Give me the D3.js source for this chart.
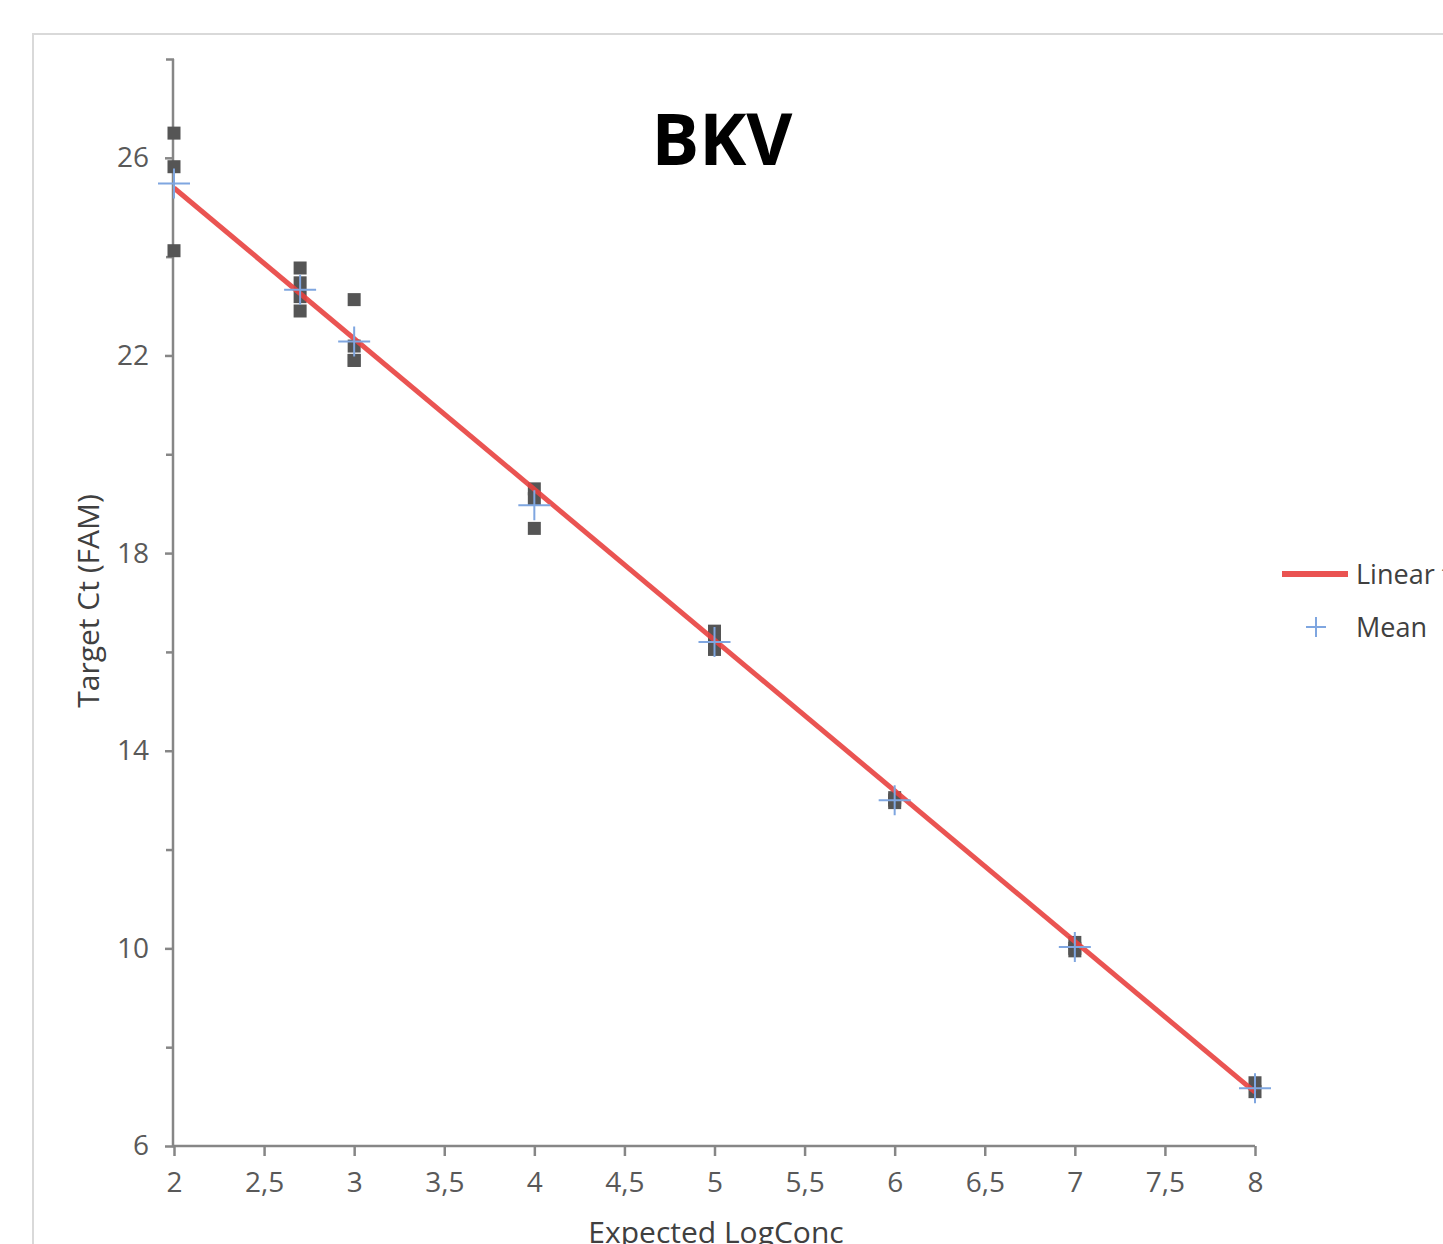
<!DOCTYPE html>
<html><head><meta charset="utf-8">
<script src="https://cdn.jsdelivr.net/npm/d3@7"></script>
<style>html,body{margin:0;padding:0;background:#fff;overflow:hidden}</style>
</head><body>
<script>
const title = "BKV";
const xLabel = "Expected LogConc";
const yLabel = "Target Ct (FAM)";
const xTicks = [2,2.5,3,3.5,4,4.5,5,5.5,6,6.5,7,7.5,8];
const yTicks = [6,10,14,18,22,26];
const yMinorTicks = [8,12,16,20,24,28];
// replicate points (x = expected log conc, y = Ct)
const pointX = [2,2,2, 2.7,2.7,2.7,2.7, 3,3,3,3, 4,4,4, 5,5,5, 6,6,6, 7,7,7, 8,8];
const pointY = [26.5,25.82,24.12, 23.77,23.47,23.19,22.9, 23.13,22.19,21.9,21.9, 19.3,19.1,18.5, 16.42,16.22,16.05, 12.95,13.05,13.0, 10.12,9.95,10.0, 7.28,7.1];
const meanX = [2,2.7,3,4,5,6,7,8];
const meanY = [25.48,23.33,22.28,18.97,16.2,13.0,10.03,7.17];
const fitX = [2,8];
const fitY = [25.39,7.09];
const legendLabels = ["Linear fit","Mean"];

const W=1443,H=1244;
const svg=d3.select("body").append("svg").attr("width",W).attr("height",H)
  .style("font-family","'Open Sans',sans-serif");
svg.append("rect").attr("x",33).attr("y",34).attr("width",W).attr("height",H)
  .attr("fill","#fff").attr("stroke","#d9d9d9").attr("stroke-width",2);

const x=d3.scaleLinear().domain([2,8]).range([174,1255]);
const y=d3.scaleLinear().domain([6,28]).range([1146,59]);
const axisColor="#868686", textColor="#595959";

// y axis
const ya=svg.append("g").attr("transform","translate(174,0)")
  .call(d3.axisLeft(y).tickValues(yTicks).tickSize(9).tickPadding(16).tickFormat(d3.format("d")));
const ym=svg.append("g").attr("transform","translate(174,0)")
  .call(d3.axisLeft(y).tickValues(yMinorTicks).tickSize(8).tickFormat(""));
ym.select(".domain").remove();
// x axis
const xa=svg.append("g").attr("transform","translate(0,1146)")
  .call(d3.axisBottom(x).tickValues(xTicks).tickSize(10).tickPadding(16)
    .tickFormat(d=>String(d).replace(".",",")));
[ya,ym,xa].forEach(g=>{
  g.selectAll(".domain").attr("stroke",axisColor).attr("stroke-width",2.5);
  g.selectAll(".tick line").attr("stroke",axisColor).attr("stroke-width",2.5);
  g.selectAll(".tick text").attr("fill",textColor).style("font-size","28px").style("font-family","'Open Sans',sans-serif");
});
ya.select(".domain").attr("d","M-1,59V1146H0");
xa.select(".domain").attr("d","M174,0H1255");

// axis titles
svg.append("text").attr("transform","translate(99,601) rotate(-90)").attr("text-anchor","middle")
  .attr("fill","#404040").style("font-size","30px").text(yLabel);
svg.append("text").attr("x",716).attr("y",1243).attr("text-anchor","middle")
  .attr("fill","#404040").style("font-size","30px").text(xLabel);

// title
svg.append("text").attr("x",722).attr("y",165).attr("text-anchor","middle")
  .attr("fill","#000").style("font-size","71px").style("font-weight","bold").text(title);

// points
const pts=pointX.map((v,i)=>({x:v,y:pointY[i]}));
svg.append("g").selectAll("rect").data(pts).join("rect")
  .attr("x",d=>x(d.x)-6.5).attr("y",d=>y(d.y)-6.5).attr("width",13).attr("height",13)
  .attr("fill","#555");

// fit line
const line=d3.line().x(d=>x(d[0])).y(d=>y(d[1]));
svg.append("path").attr("d",line(fitX.map((v,i)=>[v,fitY[i]])))
  .attr("stroke","#e8413f").attr("stroke-width",5).attr("fill","none").attr("opacity",0.9);

// means
const crossPath=(cx,cy,h,v)=>`M${cx-h},${cy}H${cx+h}M${cx},${cy-v}V${cy+v}`;
svg.append("g").selectAll("path").data(meanX.map((v,i)=>[v,meanY[i]])).join("path")
  .attr("d",d=>crossPath(x(d[0]),y(d[1]),16,15))
  .attr("stroke","#7fa6e0").attr("stroke-width",2).attr("fill","none");

// legend
svg.append("line").attr("x1",1282).attr("x2",1348).attr("y1",574).attr("y2",574)
  .attr("stroke","#e8413f").attr("stroke-width",6).attr("opacity",0.9);
svg.append("text").attr("x",1356).attr("y",584).attr("fill","#404040").style("font-size","27px").text(legendLabels[0]);
svg.append("path").attr("d",crossPath(1316,627,10,10)).attr("stroke","#7fa6e0").attr("stroke-width",2);
svg.append("text").attr("x",1356).attr("y",637).attr("fill","#404040").style("font-size","27px").text(legendLabels[1]);
</script>
</body></html>
